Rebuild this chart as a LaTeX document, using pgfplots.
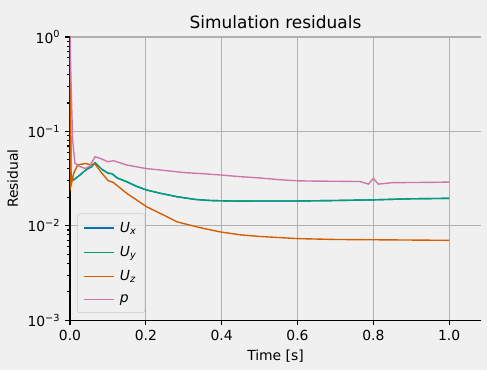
\documentclass[border=0pt]{standalone}
\usepackage{pgfplots}
\pgfplotsset{compat=1.18}
\usepackage{fontspec}
\setmainfont{DejaVu Sans}
\usepackage{xcolor}
\definecolor{bgc}{HTML}{F0F0F0}
\definecolor{cUx}{HTML}{0173B2}
\definecolor{cUy}{HTML}{029E73}
\definecolor{cUz}{HTML}{D55E00}
\definecolor{cp}{HTML}{CC79A7}
\definecolor{gridc}{HTML}{B0B0B0}
\pagecolor{bgc}
\begin{document}
\begin{tikzpicture}
\begin{axis}[
  scale only axis,
  width=295.9pt, height=203.8pt,
  ymode=log,
  xmin=0, xmax=1.084,
  ymin=1e-3, ymax=1,
  axis x line*=bottom, axis y line*=left,
  axis line style={line width=0.8pt, black},
  every tick/.style={black, line width=0.8pt},
  tick align=outside,
  major tick length=3.5pt, minor tick length=2pt,
  xtick={0,0.2,0.4,0.6,0.8,1.0},
  xticklabel style={/pgf/number format/.cd, fixed, fixed zerofill, precision=1, assume math mode=true},
  ytick={1e-3,1e-2,1e-1,1},
  yticklabels={10\textsuperscript{−3},10\textsuperscript{−2},10\textsuperscript{−1},10\textsuperscript{0}},
  tick label style={font=\fontsize{10}{12}\selectfont},
  grid=major,
  major grid style={gridc, line width=0.8pt},
  title={Simulation residuals},
  title style={font=\fontsize{12.2}{14}\selectfont, at={(0.5,1)}, anchor=base, yshift=0pt},
  xlabel={Time [s]},
  ylabel={Residual},
  label style={font=\fontsize{10}{12}\selectfont},
  legend style={at={(0.017,0.025)}, anchor=south west, fill=bgc, fill opacity=0.8, text opacity=1, draw=black!20, rounded corners=2pt, font=\fontsize{10}{12}\selectfont, row sep=4.6pt, inner xsep=4pt, inner ysep=4pt},
  legend cell align=left,
  legend image code/.code={\draw[#1, line width=1pt] (0pt,0pt) -- (22pt,0pt);},
  every axis plot/.append style={line width=1pt},
]
\coordinate (bl) at (axis description cs:-0.1703,-0.1767);
\coordinate (tr) at (axis description cs:1.0146,1.1307);
\addplot[cUx, line width=1pt] coordinates {
(0,1.0) (0.002,0.038) (0.005,0.032) (0.009,0.0305) (0.015,0.0318) (0.026,0.0344) (0.035,0.037) (0.044,0.0396) (0.057,0.0422) (0.066,0.0465) (0.075,0.043) (0.084,0.0396) (0.095,0.0372) (0.101,0.0359) (0.11,0.0357) (0.125,0.032) (0.15,0.0292) (0.175,0.0262) (0.202,0.0239) (0.24,0.0220) (0.282,0.0203) (0.33,0.0190) (0.37,0.0185) (0.396,0.0184) (0.45,0.0182) (0.5,0.0183) (0.6,0.0183) (0.7,0.0185) (0.8,0.0188) (0.9,0.0193) (1.0,0.0195)
};
\addlegendentry{\,\textit{U}\textsubscript{\textit{x}}}
\addplot[cUy, line width=1pt] coordinates {
(0,1.0) (0.002,0.038) (0.005,0.032) (0.009,0.0305) (0.015,0.0318) (0.026,0.0344) (0.035,0.037) (0.044,0.0396) (0.057,0.0422) (0.066,0.0465) (0.075,0.043) (0.084,0.0396) (0.095,0.0372) (0.101,0.0359) (0.11,0.0357) (0.125,0.032) (0.15,0.0292) (0.175,0.0262) (0.202,0.0239) (0.24,0.0220) (0.282,0.0203) (0.33,0.0190) (0.37,0.0185) (0.396,0.0184) (0.45,0.0182) (0.5,0.0183) (0.6,0.0183) (0.7,0.0185) (0.8,0.0188) (0.9,0.0193) (1.0,0.0195)
};
\addlegendentry{\,\textit{U}\textsubscript{\textit{y}}}
\addplot[cUz, line width=1pt] coordinates {
(0,1.0) (0.002,0.026) (0.004,0.028) (0.01,0.036) (0.02,0.044) (0.04,0.0457) (0.052,0.0445) (0.066,0.045) (0.084,0.036) (0.101,0.030) (0.114,0.0288) (0.15,0.022) (0.202,0.0159) (0.25,0.0128) (0.282,0.0110) (0.34,0.0096) (0.396,0.0086) (0.45,0.0080) (0.5,0.0077) (0.6,0.0073) (0.7,0.00715) (0.8,0.0071) (0.9,0.00705) (1.0,0.0070)
};
\addlegendentry{\,\textit{U}\textsubscript{\textit{z}}}
\addplot[cp, line width=1pt] coordinates {
(0,1.0) (0.003,0.3) (0.007,0.08) (0.013,0.046) (0.026,0.0424) (0.04,0.0404) (0.052,0.0428) (0.066,0.0538) (0.08,0.0517) (0.1,0.0476) (0.114,0.0489) (0.15,0.044) (0.2,0.0404) (0.25,0.0385) (0.3,0.0366) (0.35,0.0356) (0.4,0.0344) (0.45,0.0331) (0.5,0.0321) (0.55,0.0308) (0.6,0.0299) (0.65,0.0297) (0.7,0.0296) (0.765,0.0294) (0.787,0.0276) (0.800,0.0318) (0.813,0.0276) (0.85,0.0286) (0.9,0.0287) (0.95,0.0288) (1.0,0.0290)
};
\addlegendentry{\,\textit{p}}
\end{axis}
\pgfresetboundingbox
\useasboundingbox (bl) rectangle (tr);
\end{tikzpicture}
\end{document}
